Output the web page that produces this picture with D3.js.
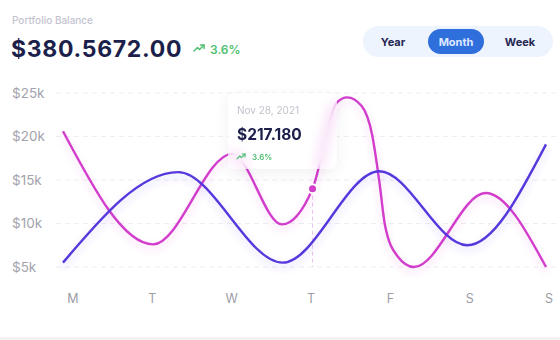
<!DOCTYPE html>
<html>
<head>
<meta charset="utf-8">
<script src="https://cdn.jsdelivr.net/npm/d3@7"></script>
<style>
  body { margin: 0; background: #fff; font-family: Inter, "Noto Sans", sans-serif; }
  #wrap { position: relative; width: 560px; height: 340px; overflow: hidden; }
  .tip {
    position: absolute; left: 228px; top: 93px; width: 109px; height: 76px;
    border-radius: 6px; background: rgba(255,255,255,0.5);
    backdrop-filter: blur(6px); -webkit-backdrop-filter: blur(6px);
    box-shadow: 0 4px 14px rgba(60,60,90,0.07);
    font-family: Inter, sans-serif;
  }
</style>
</head>
<body>
<div id="wrap"></div>
<script>
// days on the x axis
const dayLabels = ['M', 'T', 'W', 'T', 'F', 'S', 'S'];
const yTicks = [5000, 10000, 15000, 20000, 25000];

// pink series (x in days from Monday, value in $)
const pinkX = [0, 1.12, 2.1, 2.72, 3.1, 3.4, 3.53, 3.71, 3.84, 3.93, 4.0, 4.15, 4.36, 5.25, 6];
const pinkY = [20600, 7600, 18000, 9900, 14000, 23900, 24500, 23500, 20200, 14800, 9800, 6300, 5000, 13500, 5000];

// blue series
const blueX = [0, 1.43, 2.73, 3.93, 5.02, 6];
const blueY = [5500, 15900, 5500, 16000, 7500, 19100];

// highlighted point
const tipIndex = 4;
const tipDate = 'Nov 28, 2021';
const tipValue = '$217.180';
const change = '3.6%';

const periods = ['Year', 'Month', 'Week'];
const activePeriod = 'Month';

var width = 560, height = 340;

var wrap = d3.select('#wrap');
var svg = wrap.append('svg')
  .attr('width', width)
  .attr('height', height)
  .style('position', 'absolute').style('left', 0).style('top', 0);

var xScale = d3.scaleLinear().domain([0, 6]).range([63, 546]);
var xLabel = d3.scalePoint().domain(d3.range(dayLabels.length)).range([73, 549]);
var yScale = d3.scaleLinear().domain([5000, 25000]).range([267, 93]);

var defs = svg.append('defs');
function glow(id, color) {
  defs.append('filter').attr('id', id)
    .attr('x', '-10%').attr('y', '-20%').attr('width', '120%').attr('height', '150%')
    .append('feDropShadow')
    .attr('dx', 0).attr('dy', 4).attr('stdDeviation', 3.5)
    .attr('flood-color', color).attr('flood-opacity', 0.22);
}
glow('glowPink', '#d63fd0');
glow('glowBlue', '#5b3fe4');

// header
svg.append('text').attr('x', 12).attr('y', 24)
  .attr('font-size', 10).attr('font-weight', 500).attr('fill', '#c3c3cf')
  .text('Portfolio Balance');
svg.append('text').attr('x', 11).attr('y', 57)
  .attr('font-size', 23).attr('font-weight', 700).attr('fill', '#1d1f4b')
  .attr('letter-spacing', 0.7)
  .text('$380.5672.00');

function trendIcon(g, x, y, s, color) {
  g.append('path')
    .attr('d', `M${x},${y + 6 * s} L${x + 3.5 * s},${y + 2.5 * s} L${x + 5.5 * s},${y + 4.5 * s} L${x + 10 * s},${y}`)
    .attr('fill', 'none').attr('stroke', color).attr('stroke-width', 1.5 * s)
    .attr('stroke-linecap', 'round').attr('stroke-linejoin', 'round');
  g.append('path')
    .attr('d', `M${x + 6.5 * s},${y} L${x + 10 * s},${y} L${x + 10 * s},${y + 3.5 * s}`)
    .attr('fill', 'none').attr('stroke', color).attr('stroke-width', 1.5 * s)
    .attr('stroke-linecap', 'round').attr('stroke-linejoin', 'round');
}
trendIcon(svg, 194, 45, 1, '#4fbf72');
svg.append('text').attr('x', 210).attr('y', 54)
  .attr('font-size', 12).attr('font-weight', 600).attr('fill', '#4fbf72')
  .text(change);

// period toggle
var tog = svg.append('g');
tog.append('rect').attr('x', 363).attr('y', 26).attr('width', 190).attr('height', 31)
  .attr('rx', 15.5).attr('fill', '#eef4fd');
var tx = d3.scalePoint().domain(periods).range([393, 520]);
tog.append('rect').attr('x', 428).attr('y', 29).attr('width', 56).attr('height', 25)
  .attr('rx', 12.5).attr('fill', '#2f6fdc');
tog.selectAll('text.per').data(periods).enter().append('text')
  .attr('class', 'per')
  .attr('x', d => d == 'Month' ? 456 : tx(d)).attr('y', 46)
  .attr('text-anchor', 'middle')
  .attr('font-size', 11).attr('font-weight', 700)
  .attr('fill', d => d == activePeriod ? '#dfe9ff' : '#232650')
  .text(d => d);

// grid + y labels
svg.append('g').selectAll('line').data(yTicks).enter().append('line')
  .attr('x1', 56).attr('x2', 556)
  .attr('y1', d => yScale(d)).attr('y2', d => yScale(d))
  .attr('stroke', '#ededf2').attr('stroke-width', 1).attr('stroke-dasharray', '5,4');
svg.append('g').selectAll('text').data(yTicks).enter().append('text')
  .attr('x', 12).attr('y', d => yScale(d) + 4.5)
  .attr('font-size', 13.5).attr('fill', '#a3a3ad')
  .text(d => '$' + d / 1000 + 'k');

// x labels
svg.append('g').selectAll('text').data(dayLabels).enter().append('text')
  .attr('x', (d, i) => xLabel(i)).attr('y', 303)
  .attr('text-anchor', 'middle')
  .attr('font-size', 12.5).attr('fill', '#9d9da7')
  .text(d => d);

// marker guide line
var tipPt = {x: pinkX[tipIndex], y: pinkY[tipIndex]};
svg.append('line')
  .attr('x1', xScale(tipPt.x)).attr('x2', xScale(tipPt.x))
  .attr('y1', yScale(tipPt.y)).attr('y2', yScale(5000))
  .attr('stroke', '#e7c3ea').attr('stroke-width', 1).attr('stroke-dasharray', '4,3');

var line = d3.line()
  .x(d => xScale(d[0]))
  .y(d => yScale(d[1]))
  .curve(d3.curveMonotoneX);

svg.append('path')
  .datum(pinkX.map((x, i) => [x, pinkY[i]]))
  .attr('d', line)
  .attr('fill', 'none').attr('stroke', '#d23dcc').attr('stroke-width', 2.4)
  .attr('filter', 'url(#glowPink)');

svg.append('path')
  .datum(blueX.map((x, i) => [x, blueY[i]]))
  .attr('d', line)
  .attr('fill', 'none').attr('stroke', '#5638dc').attr('stroke-width', 2.4)
  .attr('filter', 'url(#glowBlue)');

svg.append('circle')
  .attr('cx', xScale(tipPt.x)).attr('cy', yScale(tipPt.y)).attr('r', 4.5)
  .attr('fill', '#d23dcc').attr('stroke', '#fff').attr('stroke-width', 2);

// bottom band
svg.append('rect').attr('x', 0).attr('y', 337).attr('width', width).attr('height', 3)
  .attr('fill', '#f2f2f5');

// tooltip card (html so the blur works)
var tip = wrap.append('div').attr('class', 'tip');
var tsvg = tip.append('svg').attr('width', 109).attr('height', 76);
tsvg.append('text').attr('x', 9).attr('y', 21)
  .attr('font-size', 10).attr('fill', '#c2c2cc').text(tipDate);
tsvg.append('text').attr('x', 9).attr('y', 47)
  .attr('font-size', 15.5).attr('font-weight', 700).attr('fill', '#1d1f4b').text(tipValue);
trendIcon(tsvg, 9, 61, 0.8, '#4fbf72');
tsvg.append('text').attr('x', 24).attr('y', 67)
  .attr('font-size', 8).attr('font-weight', 600).attr('fill', '#4fbf72').text(change);
</script>
</body>
</html>
